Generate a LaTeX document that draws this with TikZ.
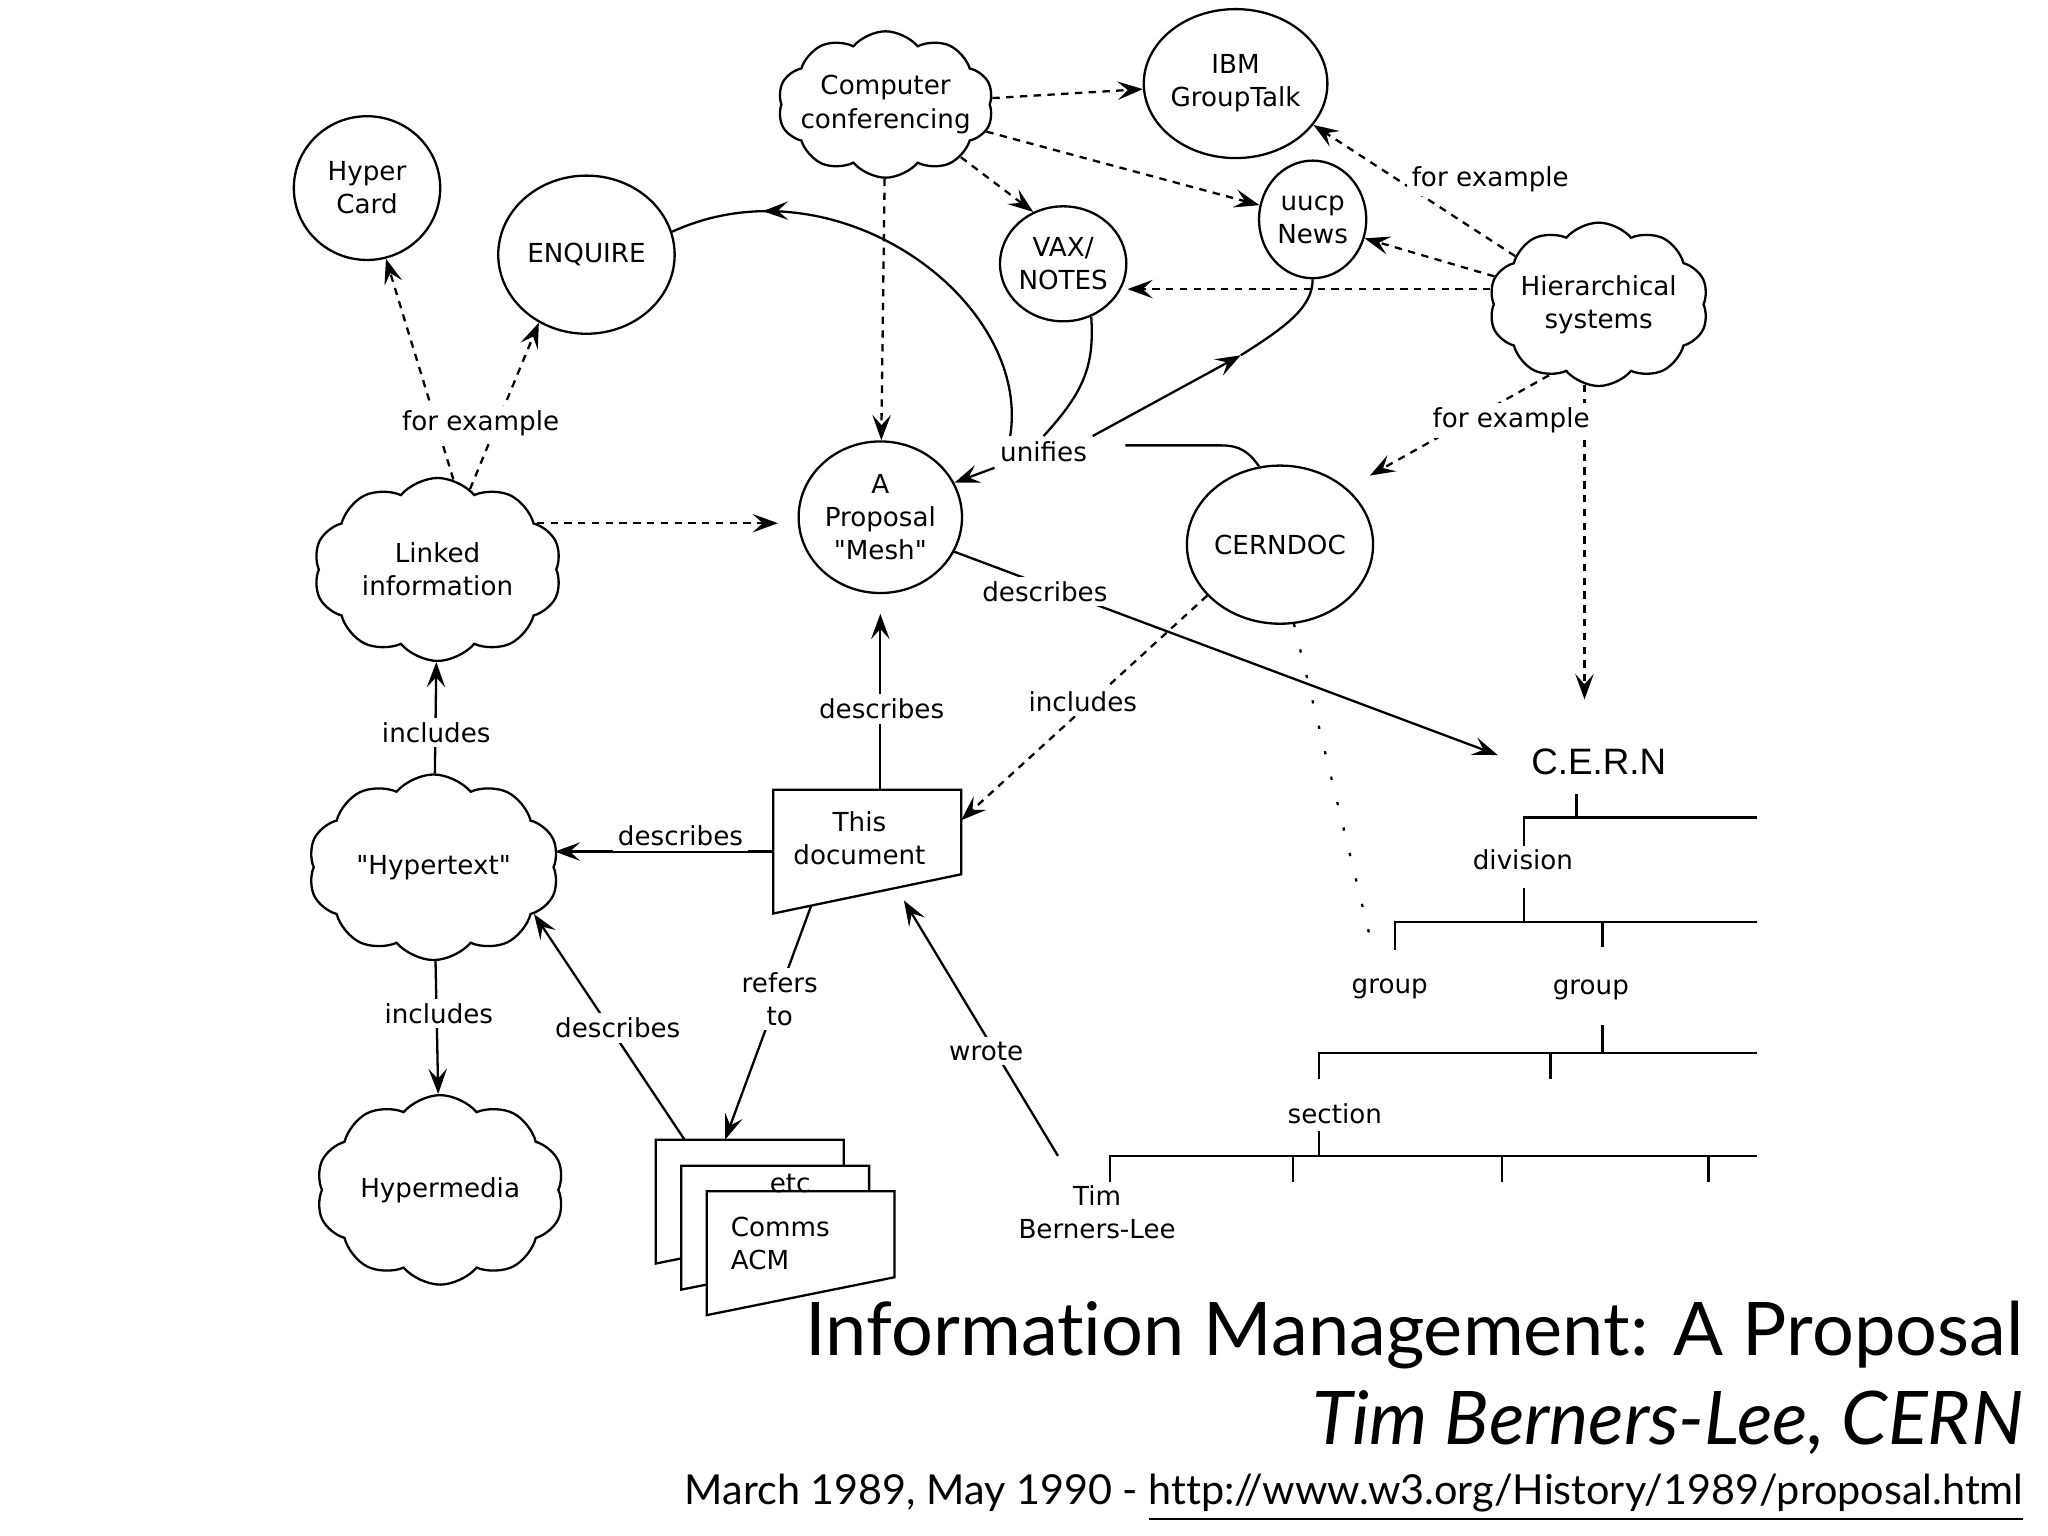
\documentclass[tikz,border=0pt]{standalone}
\usepackage{fontspec}
\setmainfont{DejaVu Sans}[Ligatures=TeXOff]
\newfontfamily\titlefont{Lato}[Ligatures=NoCommon]
\newfontfamily\cernfont{Liberation Sans}
\usetikzlibrary{shapes.geometric,shapes.symbols,arrows.meta,decorations.markings}
\begin{document}
\begin{tikzpicture}[x=0.01cm,y=-0.01cm,line width=0.5pt,
  font=\fontsize{5.7}{7.2}\selectfont,
  >={Stealth[length=5.5pt,width=4pt,inset=2.2pt]},
  bubble/.style={ellipse,draw,inner sep=0pt,align=center},
  puff/.style={cloud,draw,cloud puffs=10,cloud puff arc=100,cloud ignores aspect,inner sep=0pt,align=center},
  lbl/.style={fill=white,inner sep=1pt,align=center},
  ex/.style={->,dash pattern=on 1.6pt off 1.4pt},
  dots/.style={dash pattern=on 0.7pt off 5pt},
  page/.style={draw=none,inner sep=0pt,minimum width=1.42cm,minimum height=0.93cm},
  sheet/.style={fill=white,draw},
  midarrow/.style={postaction={decorate},decoration={markings,mark=at position #1 with {\arrow{>}}}}]
\useasboundingbox (0,0) rectangle (1568,1176);

\node[bubble,minimum width=1.12cm,minimum height=1.1cm] (hcard) at (281,144) {Hyper\\Card};
\node[bubble,minimum width=1.35cm,minimum height=1.21cm] (enq) at (449,195) {ENQUIRE};
\node[puff,inner sep=-4pt,minimum width=1.65cm,minimum height=1.12cm] (cc) at (678,80) {Computer\\conferencing};
\node[bubble,minimum width=1.2cm,minimum height=1.14cm] (ibm) at (946,64) {IBM\\GroupTalk};
\node[bubble,minimum width=0.82cm,minimum height=0.9cm] (uucp) at (1005,168) {uucp\\News};
\node[bubble,minimum width=0.92cm,minimum height=0.88cm] (vax) at (814,202) {VAX/\\NOTES};
\node[puff,inner sep=-3pt,minimum width=1.68cm,minimum height=1.25cm] (hier) at (1224,233) {Hierarchical\\systems};
\node[bubble,minimum width=1.25cm,minimum height=1.16cm] (mesh) at (674,396) {A\\Proposal\\"Mesh"};
\node[bubble,minimum width=1.34cm,minimum height=1.21cm] (cdoc) at (980,417) {CERNDOC};
\node[puff,minimum width=1.9cm,minimum height=1.4cm] (linked) at (335,436) {Linked\\information};
\node[puff,minimum width=1.92cm,minimum height=1.42cm] (htext) at (332,664) {"Hypertext"};
\node[puff,minimum width=1.9cm,minimum height=1.45cm] (hmedia) at (337,911) {Hypermedia};
\node[font=\cernfont\fontsize{8}{10}\selectfont] (cern) at (1224,583) {C.E.R.N};
\node[align=center] (tim) at (840,928) {Tim\\Berners-Lee};

\node[page] (thisdoc) at (664,652) {};
\draw[sheet] (thisdoc.north west) -- (thisdoc.north east) -- ([yshift=0.3cm]thisdoc.south east) -- (thisdoc.south west) -- cycle;
\node[align=center] (thisdoctxt) at (658,642) {This\\document};

\node[page] (backdoc) at (574,920) {};
\node[page] (middoc) at (593.5,940) {};
\node[page] (frontdoc) at (613,959.5) {};
\draw[sheet] (backdoc.north west) -- (backdoc.north east) -- ([yshift=0.29cm]backdoc.south east) -- (backdoc.south west) -- cycle;
\draw[sheet] (middoc.north west) -- (middoc.north east) -- ([yshift=0.29cm]middoc.south east) -- (middoc.south west) -- cycle;
\draw[sheet] (frontdoc.north west) -- (frontdoc.north east) -- ([yshift=0.29cm]frontdoc.south east) -- (frontdoc.south west) -- cycle;
\node (etc) at (605,906) {etc};
\node[align=left,anchor=west] (acm) at (547,952) {Comms\\ACM};

\draw[ex] (cc) -- (ibm);
\draw[ex] (cc) -- (uucp);
\draw[ex] (cc.-35) -- (vax.120);
\draw[ex] (cc) -- (mesh);
\draw[ex] (hier.150) -- (ibm.-28);
\draw[ex] (hier.165) -- (uucp.-20);
\draw[ex] (hier.172) -- (vax.east |- hier.172);
\draw[ex,shorten >=0.2cm] (hier.-125) -- (cdoc.40);
\draw[ex,shorten >=0.25cm] (hier.-100) -- (hier.-100 |- cern.north);
\draw[ex] (linked.80) -- (hcard.-75);
\draw[ex] (linked.68) -- (enq.-125);
\draw[ex,shorten >=0.15cm] (linked.25) -- (linked.25 -| mesh.west);
\draw[->] (htext) -- (linked);
\draw[->] (htext) -- (hmedia);
\draw[->] (thisdoc.west) -- (thisdoc.west -| htext.east);
\draw[->,shorten >=0.15cm] (thisdoc.north -| mesh.south) -- (mesh.south);
\draw[->] ([xshift=0.22cm]backdoc.north west) -- (htext.-25);
\draw[->] ([shift={(29,-6)}]thisdoc.south west) -- ([xshift=0.53cm]backdoc.north west);
\draw[->] ([shift={(-30,-10)}]tim.north) -- ([shift={(100,-10)}]thisdoc.south west);
\draw[ex] (cdoc.215) -- ([yshift=0.24cm]thisdoc.east);
\draw[->,shorten >=0.14cm] (mesh.-25) -- (cern.west);
\coordinate (dotend) at (1050,722);
\draw[dots] (cdoc.-80) -- (dotend);

\node[lbl] (uni) at (799,346) {unifies};
\draw[midarrow=0.8] ([xshift=0.12cm]uni.north west) .. controls (790,230) and (640,120) .. (enq.15);
\draw (uni.north) .. controls (830,300) and (838,280) .. (vax.-62);
\coordinate (ubend) at (950,272);
\draw[->] (uni.north east) -- (ubend);
\draw (ubend) .. controls (985,250) and (1005,235) .. (uucp.south);
\coordinate (cbend) at (935,341);
\draw ([shift={(25,-5)}]uni.east) -- (cbend) .. controls (950,341) and (957,347) .. (cdoc.105);
\draw[->] (uni.south west) -- (mesh.25);

\node[lbl] (fe1) at (368,324) {for example};
\node[lbl] (fe2) at (1141,137) {for example};
\node[lbl] (fe3) at (1157,322) {for example};
\node[lbl] (inc1) at (334,561) {includes};
\node[lbl] (inc2) at (336,776) {includes};
\node[lbl] (inc3) at (829,537) {includes};
\node[lbl] (des1) at (800,453) {describes};
\node[lbl] (des2) at (675,543) {describes};
\node[lbl] (des3) at (521,640) {describes};
\node[lbl] (des4) at (473,787) {describes};
\node[lbl] (ref) at (597,765) {refers\\to};
\node[lbl] (wro) at (755,805) {wrote};

\node (div) at (1166,658) {division};
\node (grp1) at (1064,757) {group};
\node (grp2) at (1218,758) {group};
\node (sect) at (1022,853) {section};
\coordinate (bar1) at (1345,626);
\coordinate (bar2) at (1345,706);
\coordinate (bar3) at (1345,806);
\coordinate (bar4) at (1345,885);
\draw (1207,608) -- (1207,626) (1167,648) |- (bar1);
\draw (1167,680) -- (1167,706) (1068,727) |- (bar2) (1227,706) -- (1227,725);
\draw (1227,785) -- (1227,806) (1010,826) |- (bar3) (1187,806) -- (1187,826);
\draw (1010,866) -- (1010,885) (850,905) |- (bar4);
\foreach \x in {990,1150,1308} \draw (\x,885) -- (\x,905);

\node[anchor=base east,inner sep=0pt,font=\titlefont\fontsize{16.1}{19}\selectfont] (title) at (1550,1038) {Information Management: A Proposal};
\node[anchor=base east,inner sep=0pt,font=\titlefont\itshape\fontsize{16.1}{19}\selectfont] (author) at (1550,1106) {Tim Berners-Lee, CERN};
\node[anchor=base east,inner sep=0pt,font=\titlefont\fontsize{9}{11}\selectfont] (date) at (1550,1152) {March 1989, May 1990 - \underline{http://www.w3.org/History/1989/proposal.html}};
\end{tikzpicture}
\end{document}
